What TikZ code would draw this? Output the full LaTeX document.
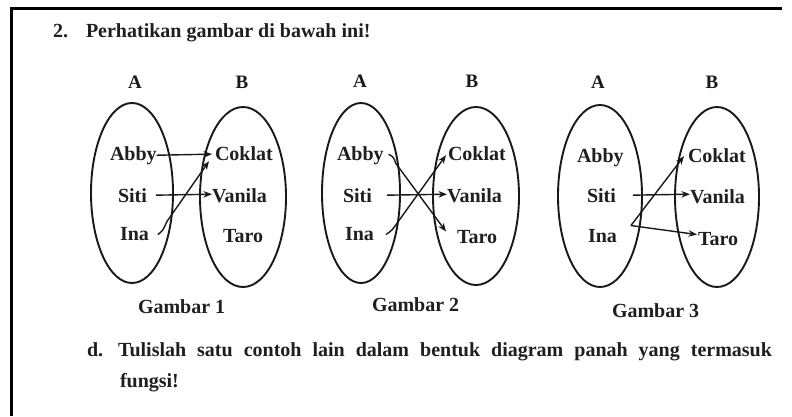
\documentclass[tikz,border=0pt]{standalone}
\usepackage{fontspec}
\setmainfont{Liberation Serif}
\usetikzlibrary{calc,arrows.meta,shapes.geometric}
\begin{document}
\begin{tikzpicture}[x=1pt,y=-1pt,
  txt/.style={anchor=base west,inner sep=0pt,outer sep=0pt,font=\bfseries\fontsize{20}{24}\selectfont,text=black!88},
  setlab/.style={anchor=base,inner sep=0pt,outer sep=0pt,font=\bfseries\fontsize{19}{22}\selectfont,text=black!90},
  setell/.style={draw=black!90,line width=1.9pt,ellipse,inner sep=0pt},
  arr/.style={draw=black!90,line width=1.4pt,-{Stealth[length=8.5pt,width=6.5pt]}}]
\useasboundingbox (0,0) rectangle (792,416);
\fill[white] (0,0) rectangle (792,416);
% frame
\draw[line width=3.5pt,black] (782,8.5) -- (11.5,8.5) -- (11.5,416);
% title
\node[txt] (num) at (53,37) {2.};
\node[txt] (title) at (86,37) {Perhatikan gambar di bawah ini!};
% ---------- Gambar 1 ----------
\node[setlab] (g1A) at (135,88) {A};
\node[setlab] (g1B) at (242,88) {B};
\node[setell,minimum width=82pt,minimum height=180pt] (g1eA) at (132,193) {};
\node[setell,minimum width=86pt,minimum height=180pt] (g1eB) at (243,197) {};
\node[txt] (g1abby) at (110,160) {Abby};
\node[txt] (g1siti) at (118,202) {Siti};
\node[txt] (g1ina) at (120,240) {Ina};
\node[txt] (g1cok) at (215,160) {Coklat};
\node[txt] (g1van) at (212,202) {Vanila};
\node[txt] (g1taro) at (223,242) {Taro};
\node[txt] (g1cap) at (138,313) {Gambar 1};
\draw[arr] (g1abby.east) -- ($(g1cok.west)+(-3,1)$);
\draw[arr] ($(g1siti.east)+(9,0)$) -- ($(g1van.west)+(0,-1)$);
\draw[arr] ($(g1ina.east)+(9,1)$) .. controls ($(g1ina.east)+(14,-3)$) .. ($(g1ina.east)+(18,-12)$) -- ($(g1cok.south west)+(-6,1)$);
% ---------- Gambar 2 ----------
\node[setlab] (g2A) at (360,87) {A};
\node[setlab] (g2B) at (472,87) {B};
\node[setell,minimum width=78pt,minimum height=180pt] (g2eA) at (361,193) {};
\node[setell,minimum width=86pt,minimum height=178pt] (g2eB) at (476,196) {};
\node[txt] (g2abby) at (337,160) {Abby};
\node[txt] (g2siti) at (343,202) {Siti};
\node[txt] (g2ina) at (345,240) {Ina};
\node[txt] (g2cok) at (448,160) {Coklat};
\node[txt] (g2van) at (447,202) {Vanila};
\node[txt] (g2taro) at (457,243) {Taro};
\node[txt] (g2cap) at (372,311) {Gambar 2};
\draw[arr] ($(g2abby.east)+(5,-1)$) .. controls ($(g2abby.east)+(10,2)$) .. ($(g2abby.east)+(12,8)$) -- ($(g2taro.west)+(-11,-5)$);
\draw[arr] ($(g2siti.east)+(15,0)$) -- ($(g2van.west)+(0,-1)$);
\draw[arr] ($(g2ina.east)+(12,1)$) .. controls ($(g2ina.east)+(18,-3)$) .. ($(g2ina.east)+(25,-13)$) -- ($(g2cok.west)+(-2,2)$);
% ---------- Gambar 3 ----------
\node[setlab] (g3A) at (598,88) {A};
\node[setlab] (g3B) at (712,88) {B};
\node[setell,minimum width=84pt,minimum height=182pt] (g3eA) at (600,196) {};
\node[setell,minimum width=84pt,minimum height=180pt] (g3eB) at (717,197) {};
\node[txt] (g3abby) at (577,162) {Abby};
\node[txt] (g3siti) at (587,202) {Siti};
\node[txt] (g3ina) at (588,242) {Ina};
\node[txt] (g3cok) at (688,162) {Coklat};
\node[txt] (g3van) at (690,203) {Vanila};
\node[txt] (g3taro) at (698,245) {Taro};
\node[txt] (g3cap) at (612,317) {Gambar 3};
\coordinate (g3s) at ($(g3ina.east)+(14,-10)$);
\draw[arr] ($(g3siti.east)+(17,0)$) -- ($(g3van.west)+(0,-2)$);
\draw[arr] (g3s) -- ($(g3cok.west)+(-4,1)$);
\draw[arr] (g3s) -- ($(g3taro.west)+(-1,-4)$);
% ---------- question d ----------
\node[txt] (qd) at (87,356) {d.};
\node[txt] (qdtext) at (118,356) {\makebox[654pt][s]{Tulislah satu contoh lain dalam bentuk diagram panah yang termasuk}};
\node[txt] (qdtext2) at (120,387) {fungsi!};
\end{tikzpicture}
\end{document}
